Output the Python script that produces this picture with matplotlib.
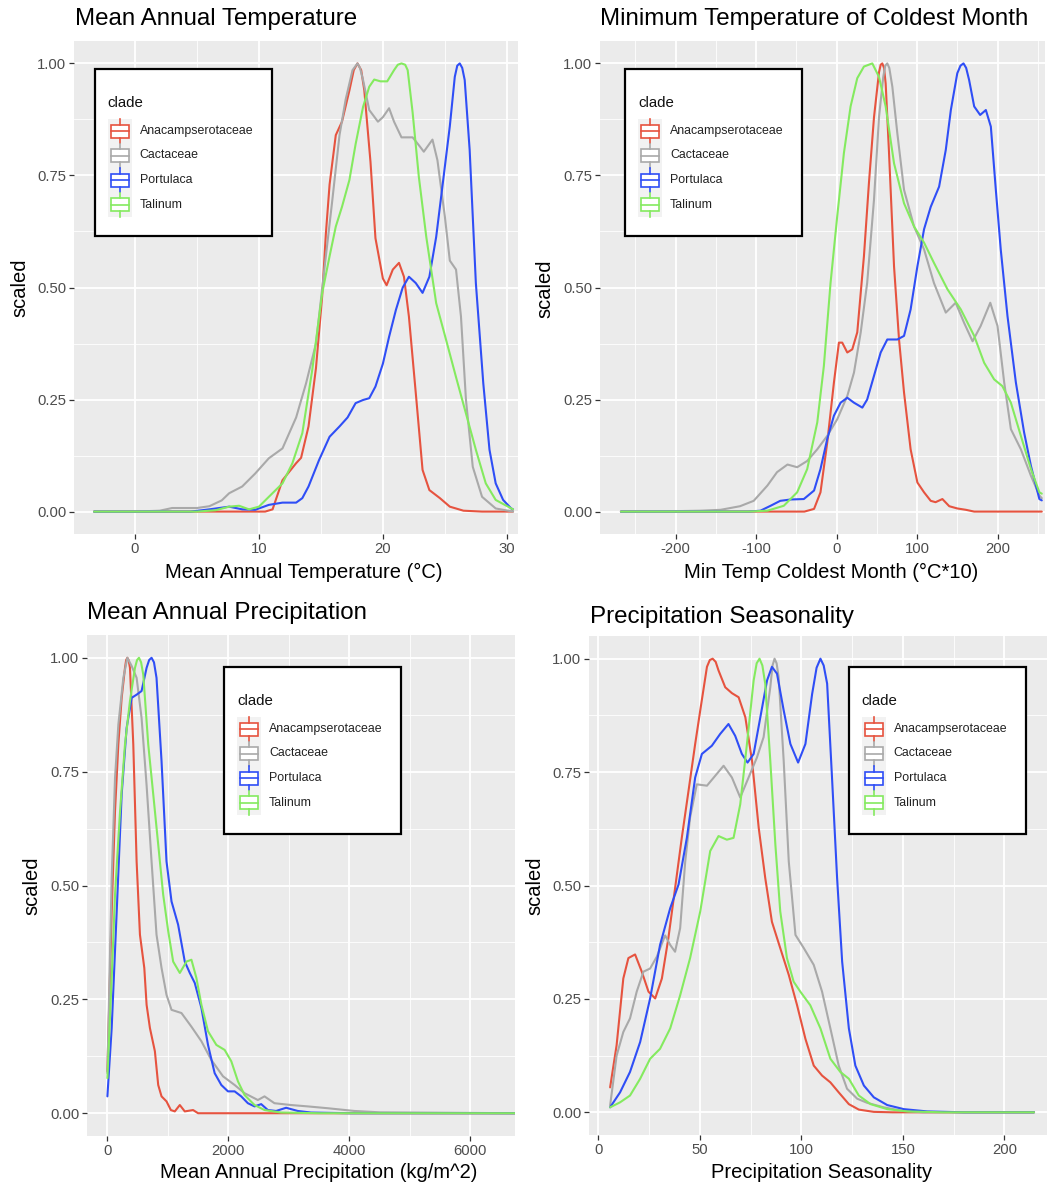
import numpy as np
import matplotlib
matplotlib.use("Agg")
import matplotlib.pyplot as plt
from matplotlib.patches import Rectangle
from matplotlib.lines import Line2D
from matplotlib.transforms import Affine2D
from matplotlib.ticker import MultipleLocator

plt.rcParams['font.family'] = ['Liberation Sans', 'DejaVu Sans']

W, H = 1047, 1186

clades = ['Anacampserotaceae', 'Cactaceae', 'Portulaca', 'Talinum']
clade_colors = ['#E6533F', '#A9A9A9', '#2F4EF6', '#84EA5F']

# ---- Mean annual temperature (deg C)
mat_anac_x = [-3.3, 5, 10.5, 11.1, 11.9, 13.0, 13.4, 14.0, 14.6, 15.1, 15.4, 15.7, 16.2, 16.7, 17.3, 17.65, 17.95,
              18.25, 18.5, 19.0, 19.4, 20.0, 20.3, 20.8, 21.3, 21.7, 22.1, 22.7, 23.2, 23.75, 24.6, 25.4, 26.5,
              28, 30.5]
mat_anac_y = [0, 0, 0.0, 0.005, 0.07, 0.108, 0.12, 0.19, 0.32, 0.48, 0.62, 0.73, 0.84, 0.87, 0.94, 0.985, 1.0,
              0.985, 0.94, 0.78, 0.61, 0.52, 0.505, 0.54, 0.555, 0.524, 0.435, 0.25, 0.093, 0.048, 0.03, 0.011,
              0.002, 0, 0]
mat_cact_x = [-3.3, 0, 2, 3, 5, 6, 7, 7.6, 8.65, 9.7, 10.8, 11.9, 13.0, 13.8, 14.6, 15.4, 15.9, 16.5, 17.0, 17.55,
              17.95, 18.15, 18.4, 18.9, 19.6, 20.0, 20.5, 20.9, 21.5, 22.4, 23.0, 23.3, 24.0, 24.4, 25.0, 25.4,
              25.9, 26.3, 26.7, 27.25, 28.0, 29.1, 30.5]
mat_cact_y = [0, 0, 0.002, 0.008, 0.008, 0.012, 0.025, 0.041, 0.056, 0.085, 0.119, 0.141, 0.21, 0.286, 0.375,
              0.57, 0.69, 0.84, 0.92, 0.985, 1.0, 0.99, 0.963, 0.896, 0.87, 0.88, 0.90, 0.87, 0.835, 0.835,
              0.814, 0.803, 0.83, 0.784, 0.658, 0.56, 0.54, 0.435, 0.25, 0.10, 0.033, 0.007, 0]
mat_port_x = [-3.3, 4.5, 6, 7.6, 8.65, 9.7, 10.8, 11.9, 13.0, 13.5, 14.0, 14.85, 15.7, 16.5, 17.15, 17.8, 18.4,
              18.9, 19.4, 20.0, 20.5, 21.05, 21.6, 22.1, 22.65, 23.2, 23.75, 24.3, 24.8, 25.4, 25.8, 26.0, 26.2,
              26.4, 26.6, 27.0, 27.5, 28.1, 28.6, 29.1, 29.7, 30.35, 30.5]
mat_port_y = [0, 0, 0.005, 0.011, 0.005, 0.004, 0.015, 0.02, 0.02, 0.03, 0.056, 0.115, 0.167, 0.19, 0.21, 0.242,
              0.249, 0.253, 0.279, 0.33, 0.39, 0.45, 0.50, 0.524, 0.51, 0.488, 0.524, 0.613, 0.725, 0.86, 0.97,
              0.995, 1.0, 0.99, 0.963, 0.807, 0.51, 0.286, 0.138, 0.063, 0.026, 0.007, 0.005]
mat_tali_x = [-3.3, 5, 6.5, 7.6, 8.4, 9.2, 10.0, 10.8, 11.9, 12.7, 13.5, 14.3, 15.1, 15.7, 16.2, 16.7, 17.3, 17.8,
              18.4, 18.9, 19.3, 19.8, 20.35, 20.9, 21.2, 21.5, 21.8, 22.0, 22.4, 22.9, 23.5, 24.3, 25.1, 25.9,
              26.7, 27.5, 28.3, 29.1, 30.5]
mat_tali_y = [0, 0, 0.003, 0.011, 0.013, 0.005, 0.011, 0.033, 0.063, 0.108, 0.175, 0.316, 0.487, 0.57, 0.636,
              0.68, 0.74, 0.82, 0.903, 0.948, 0.964, 0.96, 0.96, 0.985, 0.997, 1.0, 0.997, 0.985, 0.89, 0.747,
              0.613, 0.465, 0.383, 0.30, 0.219, 0.138, 0.063, 0.026, 0.005]

# ---- Min temp of coldest month (deg C * 10)
mtc_anac_x = [-268, -40, -28, -20, -11.6, -3.3, 2.9, 7, 13.3, 19.5, 25.7, 34, 40.2, 46.5, 52.7, 54.8, 56.8, 59,
              61, 65, 71.4, 77.6, 83.8, 92, 100.4, 108.7, 117, 123, 131.5, 140, 150, 160.6, 171, 255]
mtc_anac_y = [0, 0, 0.006, 0.043, 0.154, 0.288, 0.377, 0.377, 0.355, 0.362, 0.40, 0.57, 0.733, 0.88, 0.98, 0.997,
              1.0, 0.99, 0.955, 0.807, 0.547, 0.384, 0.266, 0.139, 0.065, 0.043, 0.024, 0.021, 0.028, 0.012,
              0.007, 0.004, 0, 0]
mtc_cact_x = [-268, -200, -169, -144, -120, -103, -86, -74, -61, -49, -36.5, -24, -11.6, 0.8, 13.3, 21.6, 30, 38,
              46.5, 52.7, 58, 60.5, 63, 65.5, 69.3, 75.5, 83.8, 96.3, 108.7, 121, 135.7, 148, 158.5, 169, 179,
              191, 200, 208.3, 216.6, 229, 241.5, 252, 255]
mtc_cact_y = [0, 0.001, 0.002, 0.004, 0.012, 0.024, 0.058, 0.088, 0.105, 0.099, 0.113, 0.139, 0.169, 0.206,
              0.258, 0.31, 0.40, 0.51, 0.696, 0.88, 0.97, 0.995, 1.0, 0.99, 0.948, 0.844, 0.718, 0.636, 0.585,
              0.51, 0.444, 0.466, 0.421, 0.38, 0.414, 0.466, 0.414, 0.288, 0.184, 0.139, 0.08, 0.036, 0.03]
mtc_port_x = [-268, -110, -94.6, -82, -70, -57, -40.7, -28, -20, -11.6, -3.3, 5, 13.3, 21.6, 32, 38, 46.5, 54.8,
              63, 75.5, 83.8, 92, 100.4, 108.7, 117, 127.4, 135.7, 142, 150, 154, 157.7, 161, 164.7, 171, 178.4,
              185.5, 191.7, 197.9, 204, 212.4, 222.8, 233, 241.5, 252, 255]
mtc_port_y = [0, 0, 0.002, 0.013, 0.024, 0.027, 0.028, 0.047, 0.095, 0.162, 0.214, 0.243, 0.254, 0.243, 0.232,
              0.25, 0.303, 0.355, 0.384, 0.384, 0.392, 0.451, 0.547, 0.63, 0.68, 0.725, 0.807, 0.896, 0.978,
              0.995, 1.0, 0.99, 0.963, 0.904, 0.885, 0.896, 0.859, 0.718, 0.585, 0.436, 0.288, 0.177, 0.102,
              0.028, 0.025]
mtc_tali_x = [-268, -110, -86, -65.6, -49, -36.5, -24, -15.8, -7.5, 0.8, 9.1, 17.4, 25.7, 34, 44.4, 52.7, 61,
              71.4, 83.8, 96.3, 108.7, 121, 137.8, 154.4, 171, 183.4, 195.8, 206, 216.6, 229, 241.5, 252, 255]
mtc_tali_y = [0, 0, 0.002, 0.013, 0.043, 0.095, 0.199, 0.325, 0.51, 0.659, 0.80, 0.904, 0.967, 0.993, 1.0, 0.97,
              0.904, 0.777, 0.688, 0.636, 0.60, 0.555, 0.496, 0.451, 0.392, 0.332, 0.295, 0.28, 0.243, 0.169,
              0.095, 0.043, 0.04]

# ---- Mean annual precipitation (kg/m^2)
map_anac_x = [0, 71, 126, 181, 236, 291, 310, 330, 350, 373, 428, 483, 538, 610, 648, 703, 785, 840, 895, 977,
              1049, 1114, 1197, 1279, 1416, 1499, 2000, 6740]
map_anac_y = [0.092, 0.443, 0.663, 0.81, 0.912, 0.978, 0.995, 1.0, 0.995, 0.978, 0.81, 0.553, 0.392, 0.319,
              0.238, 0.187, 0.136, 0.062, 0.037, 0.026, 0.007, 0.004, 0.018, 0.004, 0.007, 0, 0, 0]
map_cact_x = [0, 71, 126, 181, 264, 330, 401, 483, 565, 648, 730, 812, 895, 977, 1060, 1224, 1389, 1554, 1718,
              1911, 2103, 2267, 2487, 2597, 2761, 3036, 3311, 3640, 4079, 4500, 6740]
map_cact_y = [0.088, 0.516, 0.736, 0.853, 0.956, 1.0, 0.982, 0.956, 0.868, 0.72, 0.553, 0.392, 0.319, 0.26,
              0.227, 0.22, 0.19, 0.158, 0.117, 0.081, 0.062, 0.044, 0.029, 0.037, 0.022, 0.018, 0.015, 0.011,
              0.005, 0.002, 0]
map_port_x = [0, 71, 154, 236, 318, 401, 483, 565, 648, 690, 730, 770, 812, 895, 977, 1060, 1169, 1279, 1362,
              1444, 1554, 1663, 1773, 1883, 1993, 2103, 2212, 2322, 2432, 2542, 2652, 2789, 2954, 3146, 3365,
              4000, 6740]
map_port_y = [0.037, 0.187, 0.443, 0.70, 0.846, 0.912, 0.919, 0.927, 0.978, 0.995, 1.0, 0.99, 0.956, 0.773,
              0.553, 0.465, 0.414, 0.333, 0.308, 0.286, 0.231, 0.15, 0.088, 0.062, 0.048, 0.048, 0.037, 0.022,
              0.015, 0.02, 0.007, 0.005, 0.012, 0.005, 0.0015, 0, 0]
map_tali_x = [0, 71, 126, 209, 291, 373, 456, 490, 522, 557, 593, 675, 758, 840, 922, 1005, 1087, 1197, 1307,
              1389, 1471, 1554, 1663, 1801, 1938, 2048, 2158, 2267, 2432, 2597, 2871, 3500, 6740]
map_tali_y = [0.077, 0.297, 0.48, 0.663, 0.81, 0.905, 0.978, 0.995, 1.0, 0.99, 0.963, 0.81, 0.70, 0.59, 0.48,
              0.40, 0.333, 0.308, 0.333, 0.337, 0.297, 0.238, 0.18, 0.15, 0.139, 0.114, 0.07, 0.04, 0.018,
              0.007, 0.0015, 0, 0]

# ---- Precipitation seasonality
ps_anac_x = [5.8, 9, 12.3, 14.8, 18.1, 21.4, 24.7, 28, 31.3, 34.5, 37.8, 41.1, 44.4, 47.7, 50.2, 53.5, 54.9,
             56.3, 57.8, 59.2, 62.5, 65.8, 69.1, 72.4, 75.7, 79, 82.2, 85.5, 89.6, 93.8, 97.9, 102, 106.1, 110.2,
             114.3, 118.4, 123.4, 128.3, 135.7, 145, 214.6]
ps_anac_y = [0.055, 0.148, 0.295, 0.34, 0.348, 0.31, 0.266, 0.251, 0.295, 0.384, 0.494, 0.605, 0.708, 0.812,
             0.886, 0.982, 0.997, 1.0, 0.993, 0.974, 0.937, 0.924, 0.915, 0.871, 0.775, 0.627, 0.517, 0.42,
             0.362, 0.303, 0.236, 0.162, 0.103, 0.081, 0.066, 0.044, 0.018, 0.006, 0.001, 0, 0]
ps_cact_x = [5.8, 9, 12.3, 15.6, 18.9, 22.2, 25.5, 28.8, 32.9, 35.4, 37.8, 40.3, 42.8, 45.2, 48.5, 53.5, 57.6,
             61.7, 65.8, 69.9, 74, 78.1, 81.4, 84.7, 85.8, 86.8, 87.8, 88.8, 91.3, 93.8, 97.1, 101.2, 106.1,
             110.2, 114.3, 118.4, 122.5, 127.5, 132.4, 140.6, 148.9, 160, 214.6]
ps_cact_y = [0.015, 0.125, 0.177, 0.207, 0.266, 0.31, 0.317, 0.343, 0.39, 0.369, 0.354, 0.406, 0.553, 0.65,
             0.723, 0.72, 0.742, 0.764, 0.738, 0.694, 0.738, 0.782, 0.827, 0.937, 0.985, 1.0, 0.99, 0.96,
             0.775, 0.553, 0.391, 0.362, 0.325, 0.266, 0.185, 0.103, 0.052, 0.03, 0.021, 0.011, 0.004, 0, 0]
ps_port_x = [5.8, 10.7, 15.6, 20.6, 25.5, 30.4, 35.4, 39.5, 43.6, 47.7, 51, 55.9, 60, 64.1, 67.4, 70.7, 73.5,
             76.5, 79.8, 83.1, 85.5, 88, 91.3, 94.6, 98.4, 102, 105.3, 107.5, 109.4, 111, 112.7, 115.1, 117.6,
             120.1, 123.4, 126.6, 130.8, 135.7, 142.3, 150.5, 162, 180, 214.6]
ps_port_y = [0.011, 0.044, 0.089, 0.155, 0.251, 0.369, 0.45, 0.502, 0.605, 0.738, 0.79, 0.808, 0.834, 0.856,
             0.83, 0.79, 0.771, 0.79, 0.871, 0.952, 0.982, 0.967, 0.886, 0.812, 0.771, 0.812, 0.922, 0.98, 1.0,
             0.985, 0.945, 0.738, 0.517, 0.332, 0.185, 0.103, 0.059, 0.033, 0.016, 0.007, 0.002, 0, 0]
ps_tali_x = [5.8, 10.7, 15.6, 20.6, 25.5, 30.4, 35.4, 40.3, 45.2, 50.2, 55.1, 59.2, 63.3, 66.6, 69.9, 73.2,
             76.5, 78.0, 79.4, 80.8, 82.2, 84.7, 87.2, 89.6, 92.9, 96.2, 99.5, 104.4, 109.4, 114.3, 119.2, 123.4,
             128.3, 134.1, 142.3, 152.1, 170, 214.6]
ps_tali_y = [0.011, 0.022, 0.037, 0.074, 0.118, 0.14, 0.185, 0.258, 0.34, 0.443, 0.576, 0.609, 0.601, 0.605,
             0.679, 0.812, 0.952, 0.99, 1.0, 0.985, 0.945, 0.775, 0.59, 0.443, 0.34, 0.288, 0.266, 0.236, 0.185,
             0.118, 0.089, 0.074, 0.037, 0.018, 0.007, 0.002, 0, 0]

fig = plt.figure(figsize=(W / 100, H / 100), dpi=100)
fig.patch.set_facecolor('white')
# pixel coordinates, origin at top-left
pix = Affine2D().scale(1 / W, -1 / H).translate(0, 1) + fig.transFigure


def fx(x):
    return x / W


def fy(y):
    return 1 - y / H


def make_panel(box, xlim, xmajor, xminor, curves):
    l, t, r, b = box
    ax = fig.add_axes([fx(l), fy(b), (r - l) / W, (b - t) / H])
    ax.set_facecolor('#EBEBEB')
    for s in ax.spines.values():
        s.set_visible(False)
    ax.set_xlim(*xlim)
    ax.set_ylim(-0.05, 1.05)
    ax.xaxis.set_major_locator(MultipleLocator(xmajor))
    ax.xaxis.set_minor_locator(MultipleLocator(xminor))
    ax.yaxis.set_major_locator(MultipleLocator(0.25))
    ax.yaxis.set_minor_locator(MultipleLocator(0.125))
    ax.yaxis.set_major_formatter(lambda v, p: f'{v:.2f}')
    ax.xaxis.set_major_formatter(lambda v, p: f'{v:.0f}')
    ax.grid(which='major', color='white', lw=1.3)
    ax.grid(which='minor', color='white', lw=0.6)
    ax.set_axisbelow(True)
    ax.tick_params(which='major', length=3.5, width=0.9, color='#333333',
                   labelsize=10.7, labelcolor='#4D4D4D', pad=2)
    ax.tick_params(which='minor', length=0)
    for (xs, ys), c in zip(curves, clade_colors):
        ax.plot(xs, ys, color=c, lw=1.5, solid_joinstyle='round', solid_capstyle='round')
    return ax


def draw_legend(left, top):
    fig.patches.append(Rectangle((left, top), 177, 167, transform=pix, facecolor='white',
                                 edgecolor='black', lw=1.6))
    fig.text(fx(left + 13), fy(top + 34), 'clade', fontsize=10.8, va='center', ha='left', color='#111111')
    fig.patches.append(Rectangle((left + 13, top + 50), 24, 98, transform=pix, facecolor='#F2F2F2',
                                 edgecolor='none'))
    for i, (name, c) in enumerate(zip(clades, clade_colors)):
        cy = top + 62 + 24.5 * i
        fig.patches.append(Rectangle((left + 16, cy - 6.5), 18, 13, transform=pix, facecolor='white',
                                     edgecolor=c, lw=1.2))
        fig.lines.append(Line2D([left + 16, left + 34], [cy, cy], transform=pix, color=c, lw=1.2))
        fig.lines.append(Line2D([left + 25, left + 25], [cy - 12, cy - 6.5], transform=pix, color=c, lw=1.2))
        fig.lines.append(Line2D([left + 25, left + 25], [cy + 6.5, cy + 12], transform=pix, color=c, lw=1.2))
        fig.text(fx(left + 45), fy(cy), name, fontsize=8.9, va='center', ha='left', color='#222222')


# panel boxes: left, top, right, bottom (pixels)
make_panel((74, 41, 518, 534), (-4.92, 30.9), 10, 5,
           [(mat_anac_x, mat_anac_y), (mat_cact_x, mat_cact_y),
            (mat_port_x, mat_port_y), (mat_tali_x, mat_tali_y)])
make_panel((600, 41, 1045, 534), (-294, 259), 100, 50,
           [(mtc_anac_x, mtc_anac_y), (mtc_cact_x, mtc_cact_y),
            (mtc_port_x, mtc_port_y), (mtc_tali_x, mtc_tali_y)])
make_panel((87, 635, 515, 1136), (-337, 6737), 2000, 1000,
           [(map_anac_x, map_anac_y), (map_cact_x, map_cact_y),
            (map_port_x, map_port_y), (map_tali_x, map_tali_y)])
make_panel((589, 636, 1047, 1135), (-4.6, 221), 50, 25,
           [(ps_anac_x, ps_anac_y), (ps_cact_x, ps_cact_y),
            (ps_port_x, ps_port_y), (ps_tali_x, ps_tali_y)])

# titles
fig.text(fx(75), fy(19.5), 'Mean Annual Temperature', fontsize=17.4, va='center', ha='left')
fig.text(fx(600), fy(19.5), 'Minimum Temperature of Coldest Month', fontsize=17.4, va='center', ha='left')
fig.text(fx(87), fy(613.5), 'Mean Annual Precipitation', fontsize=17.4, va='center', ha='left')
fig.text(fx(590), fy(616.5), 'Precipitation Seasonality', fontsize=17.4, va='center', ha='left')

# axis labels
fig.text(fx(304), fy(572), 'Mean Annual Temperature (°C)', fontsize=14.5, ha='center', va='center')
fig.text(fx(831), fy(572), 'Min Temp Coldest Month (°C*10)', fontsize=14.5, ha='center', va='center')
fig.text(fx(319), fy(1173), 'Mean Annual Precipitation (kg/m^2)', fontsize=14.5, ha='center', va='center')
fig.text(fx(822), fy(1172), 'Precipitation Seasonality', fontsize=14.5, ha='center', va='center')
for x, y in [(19.5, 288), (545, 289), (31.5, 886), (535, 886)]:
    fig.text(fx(x), fy(y), 'scaled', fontsize=14.5, rotation=90, ha='center', va='center')

draw_legend(94.6, 69)
draw_legend(625, 69)
draw_legend(224, 667)
draw_legend(848.7, 667)

fig.savefig('out.png', dpi=100)
